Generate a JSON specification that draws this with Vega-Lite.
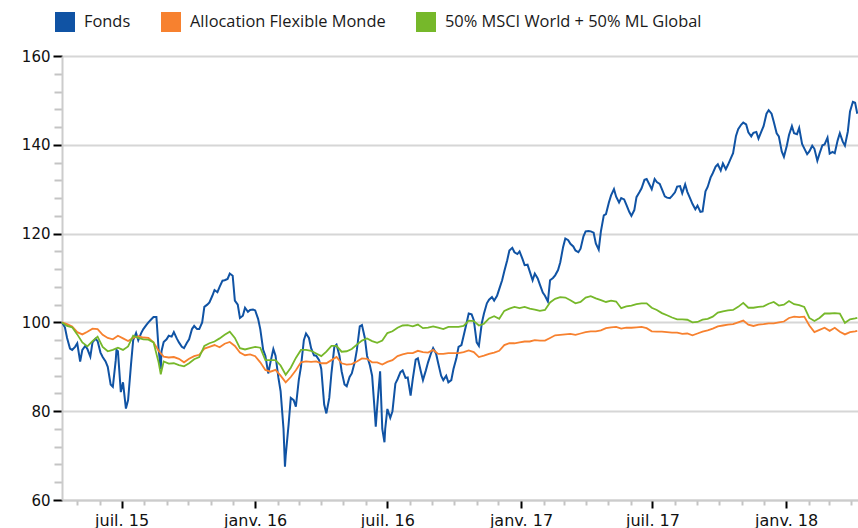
{
"$schema":"https://vega.github.io/schema/vega-lite/v6.json",
"width":796,"height":444,
"autosize":{"type":"none"},
"padding":{"left":62,"top":56,"right":0,"bottom":28},
"background":"white",
"config":{"view":{"stroke":null},"font":"DejaVu Sans"},
"datasets":{
"fonds":[
{"d":"2015-04-10","v":100},{"d":"2015-04-14","v":98.9},{"d":"2015-04-17","v":96.5},{"d":"2015-04-21","v":94.1},{"d":"2015-04-24","v":93.8},{"d":"2015-04-28","v":94.5},{"d":"2015-05-01","v":95.3},{"d":"2015-05-05","v":91.2},{"d":"2015-05-08","v":93.8},{"d":"2015-05-12","v":94.7},{"d":"2015-05-15","v":94},{"d":"2015-05-19","v":92.3},{"d":"2015-05-22","v":95.5},{"d":"2015-05-26","v":96.3},{"d":"2015-05-29","v":95.8},{"d":"2015-06-02","v":93.2},{"d":"2015-06-05","v":92.2},{"d":"2015-06-09","v":91.2},{"d":"2015-06-12","v":90},{"d":"2015-06-16","v":86},{"d":"2015-06-19","v":85.5},{"d":"2015-06-23","v":91.5},{"d":"2015-06-24","v":93.8},{"d":"2015-06-26","v":93.5},{"d":"2015-06-30","v":84.3},{"d":"2015-07-03","v":86.5},{"d":"2015-07-07","v":80.6},{"d":"2015-07-10","v":82.5},{"d":"2015-07-14","v":90.5},{"d":"2015-07-17","v":96},{"d":"2015-07-21","v":97.6},{"d":"2015-07-24","v":96},{"d":"2015-07-28","v":97.6},{"d":"2015-07-31","v":98.5},{"d":"2015-08-04","v":99.4},{"d":"2015-08-07","v":100},{"d":"2015-08-11","v":100.7},{"d":"2015-08-14","v":101.2},{"d":"2015-08-18","v":101.2},{"d":"2015-08-21","v":94},{"d":"2015-08-24","v":89.5},{"d":"2015-08-25","v":93.5},{"d":"2015-08-28","v":95.6},{"d":"2015-09-01","v":96.2},{"d":"2015-09-04","v":97},{"d":"2015-09-08","v":96.8},{"d":"2015-09-11","v":97.8},{"d":"2015-09-15","v":96.4},{"d":"2015-09-18","v":95.5},{"d":"2015-09-22","v":94.5},{"d":"2015-09-25","v":94.2},{"d":"2015-09-29","v":95.4},{"d":"2015-10-02","v":96.2},{"d":"2015-10-06","v":98.5},{"d":"2015-10-09","v":99.2},{"d":"2015-10-13","v":98.5},{"d":"2015-10-16","v":98.5},{"d":"2015-10-20","v":100},{"d":"2015-10-23","v":103.5},{"d":"2015-10-27","v":104},{"d":"2015-10-30","v":104.5},{"d":"2015-11-03","v":106},{"d":"2015-11-06","v":107.3},{"d":"2015-11-10","v":106.8},{"d":"2015-11-13","v":108},{"d":"2015-11-17","v":109.4},{"d":"2015-11-20","v":109.5},{"d":"2015-11-24","v":109.8},{"d":"2015-11-27","v":111},{"d":"2015-12-01","v":110.5},{"d":"2015-12-04","v":104.9},{"d":"2015-12-08","v":104},{"d":"2015-12-11","v":101},{"d":"2015-12-15","v":101.5},{"d":"2015-12-18","v":103.3},{"d":"2015-12-22","v":102.4},{"d":"2015-12-25","v":102.8},{"d":"2015-12-29","v":102.9},{"d":"2016-01-01","v":102.7},{"d":"2016-01-05","v":100.8},{"d":"2016-01-08","v":98.5},{"d":"2016-01-12","v":93.8},{"d":"2016-01-15","v":92.5},{"d":"2016-01-19","v":88.5},{"d":"2016-01-22","v":91},{"d":"2016-01-26","v":94},{"d":"2016-01-29","v":92.5},{"d":"2016-02-02","v":87.5},{"d":"2016-02-05","v":84.5},{"d":"2016-02-09","v":76},{"d":"2016-02-11","v":67.5},{"d":"2016-02-12","v":70},{"d":"2016-02-16","v":77},{"d":"2016-02-19","v":83},{"d":"2016-02-23","v":82.5},{"d":"2016-02-26","v":81},{"d":"2016-03-01","v":87},{"d":"2016-03-04","v":90},{"d":"2016-03-08","v":96},{"d":"2016-03-11","v":97.5},{"d":"2016-03-15","v":96.5},{"d":"2016-03-18","v":94.2},{"d":"2016-03-22","v":92.6},{"d":"2016-03-25","v":92.5},{"d":"2016-03-29","v":91.5},{"d":"2016-04-01","v":89.5},{"d":"2016-04-05","v":81.5},{"d":"2016-04-08","v":79.5},{"d":"2016-04-12","v":83},{"d":"2016-04-15","v":88.6},{"d":"2016-04-19","v":94.5},{"d":"2016-04-22","v":95},{"d":"2016-04-26","v":92.5},{"d":"2016-04-29","v":89},{"d":"2016-05-03","v":86},{"d":"2016-05-06","v":85.6},{"d":"2016-05-10","v":87.7},{"d":"2016-05-13","v":88.5},{"d":"2016-05-17","v":91},{"d":"2016-05-20","v":93.8},{"d":"2016-05-24","v":99.1},{"d":"2016-05-27","v":99.4},{"d":"2016-05-31","v":96.5},{"d":"2016-06-03","v":92.5},{"d":"2016-06-07","v":90.3},{"d":"2016-06-10","v":88},{"d":"2016-06-14","v":79},{"d":"2016-06-15","v":76.5},{"d":"2016-06-17","v":81},{"d":"2016-06-21","v":89},{"d":"2016-06-24","v":76},{"d":"2016-06-27","v":73},{"d":"2016-06-28","v":76},{"d":"2016-07-01","v":80.5},{"d":"2016-07-05","v":78.5},{"d":"2016-07-08","v":80},{"d":"2016-07-12","v":86.2},{"d":"2016-07-15","v":87.2},{"d":"2016-07-19","v":88.8},{"d":"2016-07-22","v":89.2},{"d":"2016-07-26","v":87.5},{"d":"2016-07-29","v":87.6},{"d":"2016-08-02","v":83.5},{"d":"2016-08-05","v":87.3},{"d":"2016-08-09","v":91.6},{"d":"2016-08-12","v":91.9},{"d":"2016-08-16","v":89},{"d":"2016-08-19","v":87},{"d":"2016-08-23","v":89.2},{"d":"2016-08-26","v":91},{"d":"2016-08-30","v":93},{"d":"2016-09-02","v":94.2},{"d":"2016-09-06","v":93},{"d":"2016-09-09","v":90.8},{"d":"2016-09-13","v":88},{"d":"2016-09-16","v":87},{"d":"2016-09-20","v":88},{"d":"2016-09-23","v":86.5},{"d":"2016-09-27","v":87},{"d":"2016-09-30","v":89.5},{"d":"2016-10-04","v":91.9},{"d":"2016-10-07","v":94.5},{"d":"2016-10-11","v":94.9},{"d":"2016-10-14","v":97},{"d":"2016-10-18","v":99.8},{"d":"2016-10-21","v":102},{"d":"2016-10-25","v":101.8},{"d":"2016-10-28","v":100.5},{"d":"2016-11-01","v":95.5},{"d":"2016-11-04","v":94.7},{"d":"2016-11-08","v":99.8},{"d":"2016-11-11","v":102},{"d":"2016-11-15","v":104.3},{"d":"2016-11-18","v":105.1},{"d":"2016-11-22","v":105.7},{"d":"2016-11-25","v":104.9},{"d":"2016-11-29","v":106},{"d":"2016-12-02","v":107.5},{"d":"2016-12-06","v":109.5},{"d":"2016-12-09","v":111.5},{"d":"2016-12-13","v":114},{"d":"2016-12-16","v":116.2},{"d":"2016-12-20","v":116.8},{"d":"2016-12-23","v":115.8},{"d":"2016-12-27","v":115.4},{"d":"2016-12-30","v":116},{"d":"2017-01-03","v":114.3},{"d":"2017-01-06","v":112.9},{"d":"2017-01-10","v":113},{"d":"2017-01-13","v":111.5},{"d":"2017-01-17","v":109.5},{"d":"2017-01-20","v":111},{"d":"2017-01-24","v":109.9},{"d":"2017-01-27","v":108.5},{"d":"2017-01-31","v":106.7},{"d":"2017-02-03","v":106},{"d":"2017-02-07","v":104.7},{"d":"2017-02-10","v":109.5},{"d":"2017-02-14","v":110},{"d":"2017-02-17","v":110.6},{"d":"2017-02-21","v":111.8},{"d":"2017-02-24","v":113.5},{"d":"2017-02-28","v":117},{"d":"2017-03-03","v":118.9},{"d":"2017-03-07","v":118.5},{"d":"2017-03-10","v":117.7},{"d":"2017-03-14","v":117.1},{"d":"2017-03-17","v":116.2},{"d":"2017-03-21","v":115.8},{"d":"2017-03-24","v":116.6},{"d":"2017-03-28","v":119.4},{"d":"2017-03-31","v":120.5},{"d":"2017-04-04","v":120.6},{"d":"2017-04-07","v":120.5},{"d":"2017-04-11","v":120.2},{"d":"2017-04-14","v":117.8},{"d":"2017-04-18","v":116.4},{"d":"2017-04-21","v":120.5},{"d":"2017-04-25","v":124.1},{"d":"2017-04-28","v":124.4},{"d":"2017-05-02","v":127},{"d":"2017-05-05","v":128.6},{"d":"2017-05-09","v":130},{"d":"2017-05-12","v":128.3},{"d":"2017-05-16","v":127},{"d":"2017-05-19","v":128},{"d":"2017-05-23","v":127.7},{"d":"2017-05-26","v":126.5},{"d":"2017-05-30","v":124.9},{"d":"2017-06-02","v":124},{"d":"2017-06-06","v":125.3},{"d":"2017-06-09","v":128.2},{"d":"2017-06-13","v":129.3},{"d":"2017-06-16","v":130.2},{"d":"2017-06-20","v":132.1},{"d":"2017-06-23","v":132.3},{"d":"2017-06-27","v":131},{"d":"2017-06-30","v":130},{"d":"2017-07-04","v":132.3},{"d":"2017-07-07","v":131.6},{"d":"2017-07-11","v":131.2},{"d":"2017-07-14","v":130},{"d":"2017-07-18","v":128.4},{"d":"2017-07-21","v":128.1},{"d":"2017-07-25","v":128},{"d":"2017-07-28","v":128.5},{"d":"2017-08-01","v":129.3},{"d":"2017-08-04","v":130.6},{"d":"2017-08-08","v":130.7},{"d":"2017-08-11","v":129.1},{"d":"2017-08-15","v":131.1},{"d":"2017-08-18","v":129.4},{"d":"2017-08-22","v":127.9},{"d":"2017-08-25","v":126.7},{"d":"2017-08-29","v":125.5},{"d":"2017-09-01","v":126.3},{"d":"2017-09-05","v":124.9},{"d":"2017-09-08","v":125},{"d":"2017-09-12","v":129.5},{"d":"2017-09-15","v":130.5},{"d":"2017-09-19","v":132.6},{"d":"2017-09-22","v":133.6},{"d":"2017-09-26","v":135.1},{"d":"2017-09-29","v":135.6},{"d":"2017-10-03","v":134.2},{"d":"2017-10-06","v":135.8},{"d":"2017-10-10","v":134.5},{"d":"2017-10-13","v":135.5},{"d":"2017-10-17","v":137},{"d":"2017-10-20","v":138.1},{"d":"2017-10-24","v":142},{"d":"2017-10-27","v":143.5},{"d":"2017-10-31","v":144.5},{"d":"2017-11-03","v":145},{"d":"2017-11-07","v":144.6},{"d":"2017-11-10","v":142.8},{"d":"2017-11-14","v":141.9},{"d":"2017-11-17","v":142.7},{"d":"2017-11-21","v":142.9},{"d":"2017-11-24","v":141.4},{"d":"2017-11-28","v":143},{"d":"2017-12-01","v":144.2},{"d":"2017-12-05","v":147},{"d":"2017-12-08","v":147.8},{"d":"2017-12-12","v":147},{"d":"2017-12-15","v":145.2},{"d":"2017-12-19","v":142.6},{"d":"2017-12-22","v":141.9},{"d":"2017-12-26","v":138.5},{"d":"2017-12-29","v":137.3},{"d":"2018-01-02","v":139.8},{"d":"2018-01-05","v":142.2},{"d":"2018-01-09","v":144.2},{"d":"2018-01-12","v":142.6},{"d":"2018-01-16","v":142.4},{"d":"2018-01-19","v":143.8},{"d":"2018-01-23","v":140.2},{"d":"2018-01-26","v":139.2},{"d":"2018-01-30","v":137.9},{"d":"2018-02-02","v":138.5},{"d":"2018-02-06","v":139.8},{"d":"2018-02-09","v":139.1},{"d":"2018-02-13","v":136.4},{"d":"2018-02-16","v":138},{"d":"2018-02-20","v":139.9},{"d":"2018-02-23","v":140.1},{"d":"2018-02-27","v":141.6},{"d":"2018-03-02","v":138},{"d":"2018-03-06","v":138.4},{"d":"2018-03-09","v":138.1},{"d":"2018-03-13","v":141},{"d":"2018-03-16","v":142.6},{"d":"2018-03-20","v":140.7},{"d":"2018-03-23","v":139.8},{"d":"2018-03-27","v":143},{"d":"2018-03-30","v":147.5},{"d":"2018-04-03","v":149.7},{"d":"2018-04-06","v":149.5},{"d":"2018-04-09","v":147}
],
"alloc":[
{"d":"2015-04-10","v":100},{"d":"2015-04-17","v":99.6},{"d":"2015-04-24","v":99.1},{"d":"2015-05-01","v":97.8},{"d":"2015-05-08","v":97.3},{"d":"2015-05-15","v":97.9},{"d":"2015-05-22","v":98.6},{"d":"2015-05-29","v":98.5},{"d":"2015-06-05","v":97.2},{"d":"2015-06-12","v":96.5},{"d":"2015-06-19","v":96.2},{"d":"2015-06-26","v":97},{"d":"2015-07-03","v":96.4},{"d":"2015-07-10","v":95.8},{"d":"2015-07-17","v":96.5},{"d":"2015-07-24","v":96.9},{"d":"2015-07-31","v":96.6},{"d":"2015-08-07","v":96.5},{"d":"2015-08-14","v":95.5},{"d":"2015-08-21","v":93.6},{"d":"2015-08-28","v":92.3},{"d":"2015-09-04","v":92.1},{"d":"2015-09-11","v":92.2},{"d":"2015-09-18","v":91.8},{"d":"2015-09-25","v":91},{"d":"2015-10-02","v":91.8},{"d":"2015-10-09","v":92.4},{"d":"2015-10-16","v":92.7},{"d":"2015-10-23","v":94.1},{"d":"2015-10-30","v":94.5},{"d":"2015-11-06","v":94.9},{"d":"2015-11-13","v":94.4},{"d":"2015-11-20","v":95.2},{"d":"2015-11-27","v":95.6},{"d":"2015-12-04","v":94.7},{"d":"2015-12-11","v":93.2},{"d":"2015-12-18","v":92.6},{"d":"2015-12-25","v":92.8},{"d":"2016-01-01","v":92.4},{"d":"2016-01-08","v":91},{"d":"2016-01-15","v":89.3},{"d":"2016-01-22","v":88.9},{"d":"2016-01-29","v":89.3},{"d":"2016-02-05","v":88},{"d":"2016-02-12","v":86.5},{"d":"2016-02-19","v":87.7},{"d":"2016-02-26","v":89.2},{"d":"2016-03-04","v":91},{"d":"2016-03-11","v":91.2},{"d":"2016-03-18","v":91.1},{"d":"2016-03-25","v":91.2},{"d":"2016-04-01","v":90.8},{"d":"2016-04-08","v":90.8},{"d":"2016-04-15","v":91.5},{"d":"2016-04-22","v":92.2},{"d":"2016-04-29","v":90.8},{"d":"2016-05-06","v":90.5},{"d":"2016-05-13","v":90.6},{"d":"2016-05-20","v":91.2},{"d":"2016-05-27","v":91.9},{"d":"2016-06-03","v":91.8},{"d":"2016-06-10","v":91},{"d":"2016-06-17","v":91},{"d":"2016-06-24","v":90.5},{"d":"2016-07-01","v":91.1},{"d":"2016-07-08","v":91.5},{"d":"2016-07-15","v":92.4},{"d":"2016-07-22","v":92.8},{"d":"2016-07-29","v":93.1},{"d":"2016-08-05","v":93.1},{"d":"2016-08-12","v":93.6},{"d":"2016-08-19","v":93.3},{"d":"2016-08-26","v":93.2},{"d":"2016-09-02","v":93.8},{"d":"2016-09-09","v":92.9},{"d":"2016-09-16","v":92.9},{"d":"2016-09-23","v":93.1},{"d":"2016-09-30","v":93.1},{"d":"2016-10-07","v":93.1},{"d":"2016-10-14","v":93.3},{"d":"2016-10-21","v":93.7},{"d":"2016-10-28","v":93.3},{"d":"2016-11-04","v":92.2},{"d":"2016-11-11","v":92.5},{"d":"2016-11-18","v":92.9},{"d":"2016-11-25","v":93.2},{"d":"2016-12-02","v":93.6},{"d":"2016-12-09","v":94.9},{"d":"2016-12-16","v":95.3},{"d":"2016-12-23","v":95.3},{"d":"2016-12-30","v":95.5},{"d":"2017-01-06","v":95.7},{"d":"2017-01-13","v":95.7},{"d":"2017-01-20","v":96},{"d":"2017-01-27","v":95.9},{"d":"2017-02-03","v":95.9},{"d":"2017-02-10","v":96.5},{"d":"2017-02-17","v":97.1},{"d":"2017-02-24","v":97.2},{"d":"2017-03-03","v":97.3},{"d":"2017-03-10","v":97.4},{"d":"2017-03-17","v":97.2},{"d":"2017-03-24","v":97.5},{"d":"2017-03-31","v":97.8},{"d":"2017-04-07","v":98},{"d":"2017-04-14","v":98},{"d":"2017-04-21","v":98.2},{"d":"2017-04-28","v":98.7},{"d":"2017-05-05","v":98.9},{"d":"2017-05-12","v":99},{"d":"2017-05-19","v":98.6},{"d":"2017-05-26","v":98.8},{"d":"2017-06-02","v":98.8},{"d":"2017-06-09","v":98.9},{"d":"2017-06-16","v":99},{"d":"2017-06-23","v":98.7},{"d":"2017-06-30","v":98},{"d":"2017-07-07","v":97.9},{"d":"2017-07-14","v":97.9},{"d":"2017-07-21","v":97.8},{"d":"2017-07-28","v":97.7},{"d":"2017-08-04","v":97.7},{"d":"2017-08-11","v":97.4},{"d":"2017-08-18","v":97.5},{"d":"2017-08-25","v":97.1},{"d":"2017-09-01","v":97.5},{"d":"2017-09-08","v":97.9},{"d":"2017-09-15","v":98.2},{"d":"2017-09-22","v":98.6},{"d":"2017-09-29","v":99.1},{"d":"2017-10-06","v":99.3},{"d":"2017-10-13","v":99.5},{"d":"2017-10-20","v":99.6},{"d":"2017-10-27","v":100},{"d":"2017-11-03","v":100.4},{"d":"2017-11-10","v":99.5},{"d":"2017-11-17","v":99.2},{"d":"2017-11-24","v":99.5},{"d":"2017-12-01","v":99.6},{"d":"2017-12-08","v":99.8},{"d":"2017-12-15","v":99.8},{"d":"2017-12-22","v":100},{"d":"2017-12-29","v":100.2},{"d":"2018-01-05","v":101},{"d":"2018-01-12","v":101.3},{"d":"2018-01-19","v":101.2},{"d":"2018-01-26","v":101.3},{"d":"2018-02-02","v":99.3},{"d":"2018-02-09","v":97.8},{"d":"2018-02-16","v":98.3},{"d":"2018-02-23","v":98.8},{"d":"2018-03-02","v":98.1},{"d":"2018-03-09","v":98.8},{"d":"2018-03-16","v":97.9},{"d":"2018-03-23","v":97.3},{"d":"2018-03-30","v":97.8},{"d":"2018-04-06","v":98},{"d":"2018-04-09","v":98.1}
],
"bench":[
{"d":"2015-04-10","v":100},{"d":"2015-04-17","v":99.2},{"d":"2015-04-24","v":98.9},{"d":"2015-05-01","v":97.3},{"d":"2015-05-08","v":95.5},{"d":"2015-05-15","v":94.6},{"d":"2015-05-22","v":95.8},{"d":"2015-05-29","v":96.8},{"d":"2015-06-05","v":94.5},{"d":"2015-06-12","v":93.5},{"d":"2015-06-19","v":93.8},{"d":"2015-06-26","v":94.3},{"d":"2015-07-03","v":93.8},{"d":"2015-07-10","v":94.6},{"d":"2015-07-17","v":97},{"d":"2015-07-24","v":96.5},{"d":"2015-07-31","v":96.2},{"d":"2015-08-07","v":96.1},{"d":"2015-08-14","v":95.5},{"d":"2015-08-21","v":91},{"d":"2015-08-24","v":88.3},{"d":"2015-08-28","v":91.2},{"d":"2015-09-04","v":90.7},{"d":"2015-09-11","v":90.8},{"d":"2015-09-18","v":90.4},{"d":"2015-09-25","v":90.1},{"d":"2015-10-02","v":90.8},{"d":"2015-10-09","v":91.7},{"d":"2015-10-16","v":92.2},{"d":"2015-10-23","v":94.7},{"d":"2015-10-30","v":95.3},{"d":"2015-11-06","v":95.7},{"d":"2015-11-13","v":96.4},{"d":"2015-11-20","v":97.2},{"d":"2015-11-27","v":97.9},{"d":"2015-12-04","v":96.5},{"d":"2015-12-11","v":94.2},{"d":"2015-12-18","v":93.9},{"d":"2015-12-25","v":94.2},{"d":"2016-01-01","v":94.5},{"d":"2016-01-08","v":94.3},{"d":"2016-01-15","v":91.5},{"d":"2016-01-22","v":91.5},{"d":"2016-01-29","v":91.5},{"d":"2016-02-05","v":90.3},{"d":"2016-02-12","v":88.2},{"d":"2016-02-19","v":89.8},{"d":"2016-02-26","v":92},{"d":"2016-03-04","v":93.8},{"d":"2016-03-11","v":93.8},{"d":"2016-03-18","v":93.6},{"d":"2016-03-25","v":93},{"d":"2016-04-01","v":92.4},{"d":"2016-04-08","v":93.4},{"d":"2016-04-15","v":94.7},{"d":"2016-04-22","v":94.7},{"d":"2016-04-29","v":93.4},{"d":"2016-05-06","v":93.5},{"d":"2016-05-13","v":94},{"d":"2016-05-20","v":95},{"d":"2016-05-27","v":95.9},{"d":"2016-06-03","v":96.4},{"d":"2016-06-10","v":95.8},{"d":"2016-06-17","v":95.4},{"d":"2016-06-24","v":95.9},{"d":"2016-07-01","v":97.6},{"d":"2016-07-08","v":98},{"d":"2016-07-15","v":98.8},{"d":"2016-07-22","v":99.3},{"d":"2016-07-29","v":99.4},{"d":"2016-08-05","v":99.1},{"d":"2016-08-12","v":99.5},{"d":"2016-08-19","v":98.7},{"d":"2016-08-26","v":98.8},{"d":"2016-09-02","v":99.1},{"d":"2016-09-09","v":98.8},{"d":"2016-09-16","v":98.5},{"d":"2016-09-23","v":99},{"d":"2016-09-30","v":99},{"d":"2016-10-07","v":99},{"d":"2016-10-14","v":99.2},{"d":"2016-10-21","v":100.4},{"d":"2016-10-28","v":100.3},{"d":"2016-11-04","v":99.3},{"d":"2016-11-11","v":99.7},{"d":"2016-11-18","v":100.9},{"d":"2016-11-25","v":101.4},{"d":"2016-12-02","v":100.8},{"d":"2016-12-09","v":102.6},{"d":"2016-12-16","v":103.1},{"d":"2016-12-23","v":103.5},{"d":"2016-12-30","v":103.2},{"d":"2017-01-06","v":103.5},{"d":"2017-01-13","v":103.1},{"d":"2017-01-20","v":102.9},{"d":"2017-01-27","v":102.6},{"d":"2017-02-03","v":102.8},{"d":"2017-02-10","v":104.5},{"d":"2017-02-17","v":105.3},{"d":"2017-02-24","v":105.7},{"d":"2017-03-03","v":105.6},{"d":"2017-03-10","v":105},{"d":"2017-03-17","v":104.3},{"d":"2017-03-24","v":104.6},{"d":"2017-03-31","v":105.6},{"d":"2017-04-07","v":105.9},{"d":"2017-04-14","v":105.4},{"d":"2017-04-21","v":105},{"d":"2017-04-28","v":104.6},{"d":"2017-05-05","v":104.9},{"d":"2017-05-12","v":104.7},{"d":"2017-05-19","v":103.2},{"d":"2017-05-26","v":103.6},{"d":"2017-06-02","v":103.8},{"d":"2017-06-09","v":104.1},{"d":"2017-06-16","v":104.3},{"d":"2017-06-23","v":104.3},{"d":"2017-06-30","v":103.3},{"d":"2017-07-07","v":102.8},{"d":"2017-07-14","v":102.1},{"d":"2017-07-21","v":101.6},{"d":"2017-07-28","v":101.1},{"d":"2017-08-04","v":100.7},{"d":"2017-08-11","v":100.7},{"d":"2017-08-18","v":100.6},{"d":"2017-08-25","v":100},{"d":"2017-09-01","v":100.1},{"d":"2017-09-08","v":100.6},{"d":"2017-09-15","v":100.8},{"d":"2017-09-22","v":101.3},{"d":"2017-09-29","v":102.2},{"d":"2017-10-06","v":102.5},{"d":"2017-10-13","v":102.7},{"d":"2017-10-20","v":102.8},{"d":"2017-10-27","v":103.5},{"d":"2017-11-03","v":104.4},{"d":"2017-11-10","v":103.3},{"d":"2017-11-17","v":103.3},{"d":"2017-11-24","v":103.5},{"d":"2017-12-01","v":103.6},{"d":"2017-12-08","v":104.2},{"d":"2017-12-15","v":104.6},{"d":"2017-12-22","v":103.8},{"d":"2017-12-29","v":104},{"d":"2018-01-05","v":104.8},{"d":"2018-01-12","v":104.1},{"d":"2018-01-19","v":103.9},{"d":"2018-01-26","v":103.5},{"d":"2018-02-02","v":101},{"d":"2018-02-09","v":100.3},{"d":"2018-02-16","v":101},{"d":"2018-02-23","v":102},{"d":"2018-03-02","v":102},{"d":"2018-03-09","v":102.1},{"d":"2018-03-16","v":102},{"d":"2018-03-23","v":99.9},{"d":"2018-03-30","v":100.7},{"d":"2018-04-06","v":100.9},{"d":"2018-04-09","v":101}
]
},
"layer":[
{"data":{"name":"fonds"},
 "mark":{"type":"line","opacity":0},
 "encoding":{
  "x":{"field":"d","type":"temporal",
   "scale":{"type":"utc","domain":[{"year":2015,"month":4,"date":10,"utc":true},{"year":2018,"month":4,"date":10,"utc":true}]},
   "axis":{"orient":"bottom","title":null,"labels":false,"domain":false,"grid":false,"tickColor":"#c4c4c4","tickSize":5,"tickWidth":2,
    "values":[{"year":2015,"month":5,"date":1,"utc":true},{"year":2015,"month":6,"date":1,"utc":true},{"year":2015,"month":8,"date":1,"utc":true},{"year":2015,"month":9,"date":1,"utc":true},{"year":2015,"month":10,"date":1,"utc":true},{"year":2015,"month":11,"date":1,"utc":true},{"year":2015,"month":12,"date":1,"utc":true},{"year":2016,"month":2,"date":1,"utc":true},{"year":2016,"month":3,"date":1,"utc":true},{"year":2016,"month":4,"date":1,"utc":true},{"year":2016,"month":5,"date":1,"utc":true},{"year":2016,"month":6,"date":1,"utc":true},{"year":2016,"month":8,"date":1,"utc":true},{"year":2016,"month":9,"date":1,"utc":true},{"year":2016,"month":10,"date":1,"utc":true},{"year":2016,"month":11,"date":1,"utc":true},{"year":2016,"month":12,"date":1,"utc":true},{"year":2017,"month":2,"date":1,"utc":true},{"year":2017,"month":3,"date":1,"utc":true},{"year":2017,"month":4,"date":1,"utc":true},{"year":2017,"month":5,"date":1,"utc":true},{"year":2017,"month":6,"date":1,"utc":true},{"year":2017,"month":8,"date":1,"utc":true},{"year":2017,"month":9,"date":1,"utc":true},{"year":2017,"month":10,"date":1,"utc":true},{"year":2017,"month":11,"date":1,"utc":true},{"year":2017,"month":12,"date":1,"utc":true},{"year":2018,"month":2,"date":1,"utc":true},{"year":2018,"month":3,"date":1,"utc":true},{"year":2018,"month":4,"date":1,"utc":true}]}},
  "y":{"field":"v","type":"quantitative","scale":{"domain":[60,160],"nice":false,"zero":false},
   "axis":{"orient":"left","title":null,"labels":false,"domain":false,"grid":false,"tickColor":"#c4c4c4","tickSize":8,"tickWidth":2,
    "values":[64,68,72,76,84,88,92,96,104,108,112,116,124,128,132,136,144,148,152,156]}}
 }},
{"data":{"name":"fonds"},
 "mark":{"type":"line","strokeWidth":2,"interpolate":"linear"},
 "encoding":{
  "x":{"field":"d","type":"temporal",
   "axis":{"orient":"bottom","title":null,"grid":false,"domainColor":"#cccccc","domainWidth":2,"tickColor":"#000000","tickSize":8,"tickWidth":2,"labelFontSize":16,"labelColor":"#111111","labelPadding":4,"labelFont":"DejaVu Sans",
    "values":[{"year":2015,"month":7,"date":1,"utc":true},{"year":2016,"month":1,"date":1,"utc":true},{"year":2016,"month":7,"date":1,"utc":true},{"year":2017,"month":1,"date":1,"utc":true},{"year":2017,"month":7,"date":1,"utc":true},{"year":2018,"month":1,"date":1,"utc":true}],
    "labelExpr":"(utcmonth(datum.value) == 0 ? 'janv. ' : 'juil. ') + utcFormat(datum.value, '%y')"}},
  "y":{"field":"v","type":"quantitative",
   "axis":{"orient":"left","title":null,"grid":true,"gridColor":"#d6d6d6","gridWidth":2,"domainColor":"#cccccc","domainWidth":2,"tickColor":"#000000","tickSize":9,"tickWidth":2,"labelFontSize":15,"labelColor":"#111111","labelPadding":3,"labelFont":"DejaVu Sans",
    "values":[60,80,100,120,140,160]}},
  "color":{"datum":"Fonds","type":"nominal",
   "scale":{"domain":["Fonds","Allocation Flexible Monde","50% MSCI World + 50% ML Global"],"range":["#1053a4","#f7812f","#76b82a"]},
   "legend":{"orient":"none","legendX":-7,"legendY":-44,"direction":"horizontal","title":null,"padding":0,
    "symbolType":"square","symbolSize":400,"symbolStrokeWidth":0,"labelFont":"Open Sans","labelFontSize":16.4,"labelColor":"#1a1a1a","labelOffset":9,"labelLimit":500,"columnPadding":30,
    "encode":{"symbols":{"update":{"fill":{"scale":"color","field":"value"},"opacity":{"value":1}}}}}}
 }},
{"data":{"name":"alloc"},
 "mark":{"type":"line","strokeWidth":1.8},
 "encoding":{
  "x":{"field":"d","type":"temporal","axis":null},
  "y":{"field":"v","type":"quantitative","axis":null},
  "color":{"datum":"Allocation Flexible Monde","type":"nominal"}
 }},
{"data":{"name":"bench"},
 "mark":{"type":"line","strokeWidth":1.8},
 "encoding":{
  "x":{"field":"d","type":"temporal","axis":null},
  "y":{"field":"v","type":"quantitative","axis":null},
  "color":{"datum":"50% MSCI World + 50% ML Global","type":"nominal"}
 }}
],
"resolve":{"axis":{"x":"independent","y":"independent"}}
}
